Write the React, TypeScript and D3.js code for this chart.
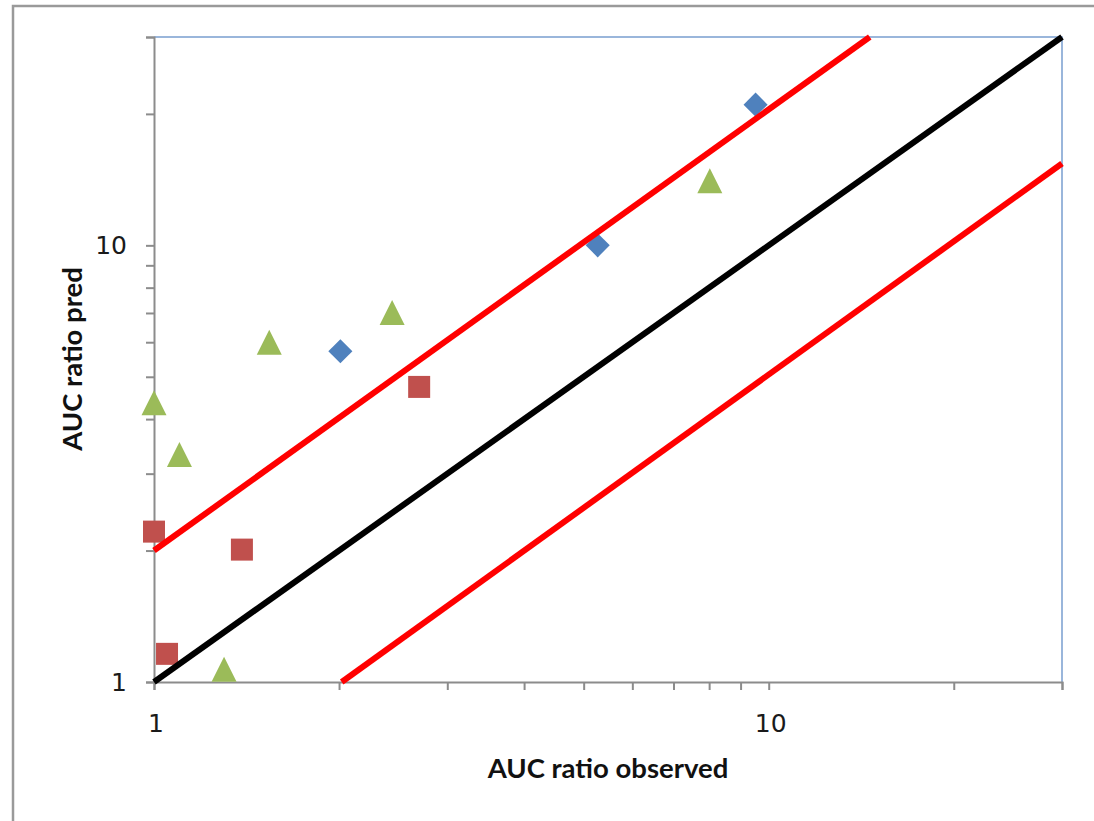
// Log-log scatter: predicted vs observed AUC ratio with identity and 2-fold lines
import React, { useEffect, useRef } from 'react';
import * as d3 from 'd3';

type Pt = { x: number; y: number };

const diamonds: Pt[] = [
  { x: 2.01, y: 5.72 },
  { x: 5.27, y: 10.0 },
  { x: 9.52, y: 21.0 },
];

const squares: Pt[] = [
  { x: 1.0, y: 2.21 },
  { x: 1.39, y: 2.01 },
  { x: 1.05, y: 1.16 },
  { x: 2.7, y: 4.74 },
];

const triangles: Pt[] = [
  { x: 1.0, y: 4.36 },
  { x: 1.1, y: 3.32 },
  { x: 1.3, y: 1.07 },
  { x: 1.54, y: 6.0 },
  { x: 2.44, y: 7.02 },
  { x: 8.02, y: 14.06 },
];

const identityLine: Pt[] = [
  { x: 1, y: 1 },
  { x: 30, y: 30 },
];
const upperLine: Pt[] = [
  { x: 1, y: 2 },
  { x: 14.6, y: 30 },
];
const lowerLine: Pt[] = [
  { x: 2.02, y: 1 },
  { x: 30, y: 15.4 },
];

const tickValues = [1, 2, 3, 4, 5, 6, 7, 8, 9, 10, 20, 30];
const labelled = [1, 10];

const App: React.FC = () => {
  const svgRef = useRef<SVGSVGElement>(null);

  useEffect(() => {
    const svg = d3.select(svgRef.current);
    svg.selectAll('*').remove();

    const width = 1094;
    const height = 821;
    const left = 154;
    const right = 1062;
    const top = 37;
    const bottom = 682;

    svg.attr('width', width).attr('height', height);

    // outer frame (left and top only visible)
    svg
      .append('path')
      .attr('d', `M13,${height} V6 H${width}`)
      .attr('fill', 'none')
      .attr('stroke', '#9a9a9a')
      .attr('stroke-width', 2.5);

    const x = d3.scaleLog().domain([1, 30]).range([left, right]);
    const y = d3.scaleLog().domain([1, 30]).range([bottom, top]);

    // plot area border (top and right)
    svg
      .append('path')
      .attr('d', `M${left},${top} H${right} V${bottom}`)
      .attr('fill', 'none')
      .attr('stroke', '#7a9fd0')
      .attr('stroke-width', 1.5);

    const xAxis = d3
      .axisBottom(x)
      .tickValues(tickValues)
      .tickSize(8)
      .tickFormat(() => '');
    const yAxis = d3
      .axisLeft(y)
      .tickValues(tickValues)
      .tickSize(8)
      .tickFormat(() => '');

    const gx = svg.append('g').attr('transform', `translate(0, ${bottom})`).call(xAxis);
    const gy = svg.append('g').attr('transform', `translate(${left}, 0)`).call(yAxis);
    [gx, gy].forEach((g) => {
      g.select('.domain').attr('stroke', '#8c8c8c').attr('stroke-width', 2);
      g.selectAll('.tick line').attr('stroke', '#8c8c8c').attr('stroke-width', 2);
    });

    // tick labels
    labelled.forEach((v) => {
      svg
        .append('text')
        .attr('x', x(v) + 2)
        .attr('y', 732)
        .attr('text-anchor', 'middle')
        .style('font-family', '"DejaVu Sans", Verdana, sans-serif')
        .style('font-size', '25px')
        .attr('fill', '#1a1a1a')
        .text(String(v));
      svg
        .append('text')
        .attr('x', 127)
        .attr('y', y(v) + 9)
        .attr('text-anchor', 'end')
        .style('font-family', '"DejaVu Sans", Verdana, sans-serif')
        .style('font-size', '25px')
        .attr('fill', '#1a1a1a')
        .text(String(v));
    });

    // axis titles
    svg
      .append('text')
      .attr('x', 608)
      .attr('y', 778)
      .attr('text-anchor', 'middle')
      .style('font-family', 'Lato, "Open Sans", sans-serif')
      .style('font-size', '27.5px')
      .style('font-weight', '700')
      .attr('fill', '#111')
      .text('AUC ratio observed');

    svg
      .append('text')
      .attr('transform', 'translate(82, 359) rotate(-90)')
      .attr('text-anchor', 'middle')
      .style('font-family', 'Lato, "Open Sans", sans-serif')
      .style('font-size', '27.5px')
      .style('font-weight', '700')
      .attr('fill', '#111')
      .text('AUC ratio pred');

    // markers
    const diamond = d3.symbol().type(d3.symbolSquare).size(290);
    svg
      .append('g')
      .selectAll('path')
      .data(diamonds)
      .join('path')
      .attr('transform', (d) => `translate(${x(d.x)}, ${y(d.y)}) rotate(45)`)
      .attr('d', diamond())
      .attr('fill', '#4f81bd');

    svg
      .append('g')
      .selectAll('rect')
      .data(squares)
      .join('rect')
      .attr('x', (d) => x(d.x) - 11)
      .attr('y', (d) => y(d.y) - 11)
      .attr('width', 22)
      .attr('height', 22)
      .attr('fill', '#c0504d');

    svg
      .append('g')
      .selectAll('path')
      .data(triangles)
      .join('path')
      .attr('transform', (d) => `translate(${x(d.x)}, ${y(d.y)})`)
      .attr('d', 'M0,-12.5 L12.5,12.5 L-12.5,12.5 Z')
      .attr('fill', '#9bbb59');

    // reference lines
    const line = d3
      .line<Pt>()
      .x((d) => x(d.x))
      .y((d) => y(d.y));

    const lines: [Pt[], string][] = [
      [upperLine, '#ff0000'],
      [identityLine, '#000000'],
      [lowerLine, '#ff0000'],
    ];
    lines.forEach(([data, color]) => {
      svg
        .append('path')
        .datum(data)
        .attr('fill', 'none')
        .attr('stroke', color)
        .attr('stroke-width', 6)
        .attr('d', line);
    });
  }, []);

  return (
    <div style={{ position: 'absolute', left: 0, top: 0, width: 1094, height: 821, background: '#fff' }}>
      <svg ref={svgRef} style={{ display: 'block' }}></svg>
    </div>
  );
};

export default App;
